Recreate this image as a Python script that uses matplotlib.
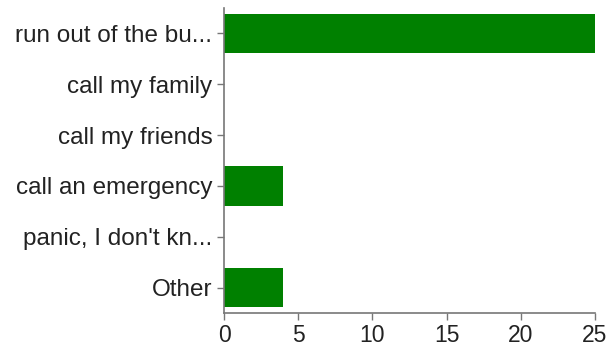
import matplotlib
matplotlib.use("Agg")
import matplotlib.pyplot as plt

categories = ["run out of the bu...", "call my family", "call my friends",
              "call an emergency", "panic, I don't kn...", "Other"]
counts = [25, 0, 0, 4, 0, 4]
xticks = [0, 5, 10, 15, 20, 25]

plt.rcParams['font.family'] = ['Liberation Sans', 'DejaVu Sans']

fig = plt.figure(figsize=(6.09, 3.47), dpi=100)
ax = fig.add_axes([0.368, 0.098, 0.609, 0.879])

ypos = list(range(len(categories)))
ax.barh(ypos, counts, height=0.78, color="#008000")

ax.set_ylim(len(categories) - 0.5, -0.5)
ax.set_xlim(0, 25)
ax.set_yticks(ypos)
ax.set_yticklabels(categories)
ax.set_xticks(xticks)

for s in ["top", "right"]:
    ax.spines[s].set_visible(False)
for s in ["left", "bottom"]:
    ax.spines[s].set_color("#777777")
    ax.spines[s].set_linewidth(1.2)

ax.tick_params(axis="both", colors="#777777", labelcolor="#222222",
               labelsize=17.5, length=5, width=1)
ax.tick_params(axis="x", labelsize=16.5, pad=3)

fig.savefig("out.png", dpi=100)
